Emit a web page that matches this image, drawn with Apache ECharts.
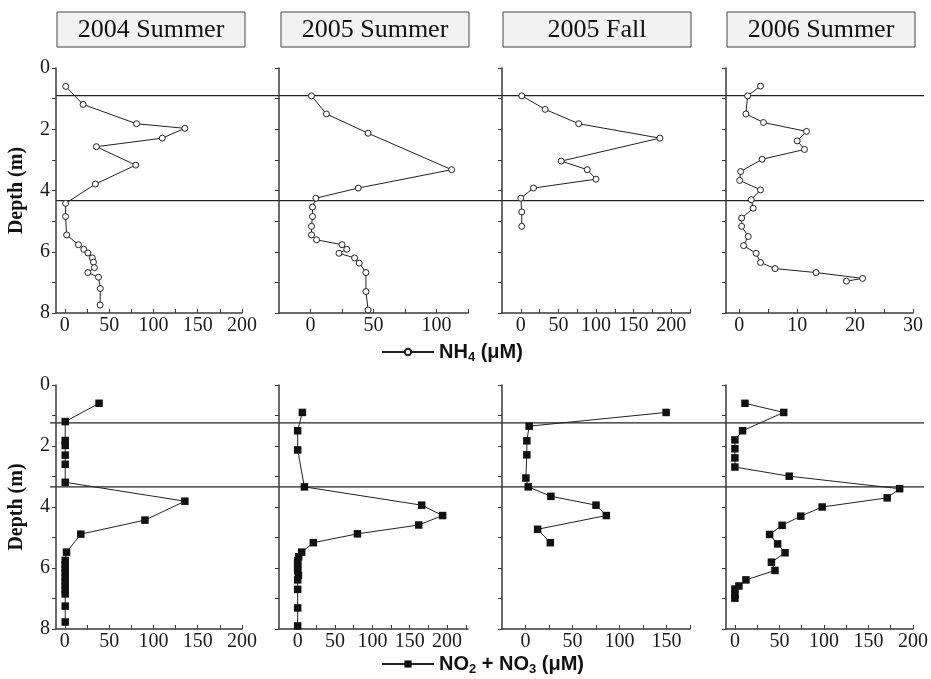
<!DOCTYPE html>
<html>
<head>
<meta charset="utf-8">
<script src="https://cdn.jsdelivr.net/npm/echarts@6/dist/echarts.min.js"></script>
<style>
  html, body { margin: 0; padding: 0; background: #fff; }
  #chart { width: 931px; height: 679px; }
</style>
</head>
<body>
<div id="chart"></div>
<script>
// panel titles
const panelNames = ["2004 Summer", "2005 Summer", "2005 Fall", "2006 Summer"];

// NH4 (uM) profiles: values and depths (m)
const nh4Val2004S = [1, 20.6, 81, 135.5, 110, 35.6, 80, 34.5, 0.8, 0.8, 2, 15.4, 21.4, 26, 31, 32.3, 33.4, 26, 38, 40, 39.8];
const nh4Dep2004S = [0.60, 1.19, 1.82, 1.97, 2.29, 2.57, 3.17, 3.79, 4.42, 4.85, 5.45, 5.77, 5.92, 6.04, 6.20, 6.34, 6.52, 6.68, 6.83, 7.20, 7.74];
const nh4Val2005S = [0.8, 12.6, 45.7, 112, 37.9, 4.3, 1.6, 1.6, 0.8, 0.8, 4.8, 25, 28.8, 22.6, 35, 38.7, 44, 44, 45.7];
const nh4Dep2005S = [0.91, 1.50, 2.13, 3.32, 3.92, 4.25, 4.54, 4.85, 5.17, 5.45, 5.61, 5.77, 5.92, 6.05, 6.20, 6.37, 6.68, 7.30, 7.90];
const nh4Val2005F = [1.3, 32.4, 77, 185, 53.8, 88.4, 100, 16.9, 0, 1.3, 1.3];
const nh4Dep2005F = [0.91, 1.35, 1.82, 2.29, 3.04, 3.32, 3.63, 3.92, 4.25, 4.70, 5.17];
const nh4Val2006S = [3.66, 1.43, 1.14, 4.17, 11.6, 10.0, 11.26, 3.94, 0.23, 0.06, 3.66, 2.06, 2.4, 0.4, 0.4, 1.54, 0.74, 2.9, 3.66, 6.17, 13.26, 21.3, 18.5];
const nh4Dep2006S = [0.59, 0.91, 1.50, 1.78, 2.07, 2.38, 2.66, 2.98, 3.38, 3.67, 3.98, 4.30, 4.58, 4.90, 5.17, 5.50, 5.80, 6.05, 6.35, 6.55, 6.68, 6.87, 6.96];

// NO2 + NO3 (uM) profiles
const noxVal2004S = [38.6, 0.4, 0.4, 0.4, 0.4, 0.4, 0.4, 135.5, 90.4, 18, 1.9, 0.4, 0.4, 0.4, 0.4, 0.4, 0.4, 0.4, 0.4, 0.4, 0.4, 0.4];
const noxDep2004S = [0.60, 1.20, 1.82, 1.98, 2.30, 2.60, 3.19, 3.81, 4.43, 4.89, 5.48, 5.75, 5.89, 6.02, 6.16, 6.30, 6.44, 6.57, 6.71, 6.85, 7.25, 7.77];
const noxVal2005S = [6.3, 0, 0, 9, 166, 194, 162, 80, 21, 5.4, 1.3, 0, 0, 0, 0, 1, 0, 0, 0, 0];
const noxDep2005S = [0.90, 1.50, 2.13, 3.34, 3.94, 4.28, 4.59, 4.88, 5.17, 5.48, 5.63, 5.76, 5.87, 5.98, 6.09, 6.24, 6.39, 6.70, 7.31, 7.90];
const noxVal2005F = [149.6, 3.9, 1.4, 1.4, 0.4, 2.9, 27, 75, 86, 12.9, 26.4];
const noxDep2005F = [0.90, 1.35, 1.83, 2.29, 3.05, 3.34, 3.65, 3.94, 4.28, 4.73, 5.17];
const noxVal2006S = [11.3, 54.8, 8.6, 0, 0, 0, 0, 61, 185, 171, 98, 74, 53, 39, 48, 56.3, 41, 45, 12.4, 4.5, 0, 0, 0];
const noxDep2006S = [0.60, 0.90, 1.50, 1.80, 2.09, 2.39, 2.69, 2.99, 3.40, 3.70, 4.00, 4.30, 4.60, 4.90, 5.21, 5.50, 5.81, 6.08, 6.39, 6.59, 6.69, 6.88, 6.99];

// layer boundaries (m)
const nh4Layers = [0.9, 4.33];
const noxLayers = [1.24, 3.34];

// x axis ranges and tick/label values
const nh4XMin = [-10, -25, -25, -2.3];
const nh4XMax = [200, 125, 225, 30];
const nh4Ticks = [
  [0, 25, 50, 75, 100, 125, 150, 175, 200],
  [0, 25, 50, 75, 100, 125],
  [0, 25, 50, 75, 100, 125, 150, 175, 200, 225],
  [0, 5, 10, 15, 20, 25, 30]
];
const nh4Labels = [[0, 50, 100, 150, 200], [0, 50, 100], [0, 50, 100, 150, 200], [0, 10, 20, 30]];
const noxXMin = [-10, -25, -25, -10];
const noxXMax = [200, 228, 175, 200];
const noxTicks = [
  [0, 25, 50, 75, 100, 125, 150, 175, 200],
  [0, 25, 50, 75, 100, 125, 150, 175, 200, 225],
  [0, 25, 50, 75, 100, 125, 150, 175],
  [0, 25, 50, 75, 100, 125, 150, 175, 200]
];
const noxLabels = [[0, 50, 100, 150, 200], [0, 50, 100, 150, 200], [0, 50, 100, 150], [0, 50, 100, 150, 200]];
const depthLabels = [0, 2, 4, 6, 8];

const nh4Vals = [nh4Val2004S, nh4Val2005S, nh4Val2005F, nh4Val2006S];
const nh4Deps = [nh4Dep2004S, nh4Dep2005S, nh4Dep2005F, nh4Dep2006S];
const noxVals = [noxVal2004S, noxVal2005S, noxVal2005F, noxVal2006S];
const noxDeps = [noxDep2004S, noxDep2005S, noxDep2005F, noxDep2006S];

const serif = '"Liberation Serif", "Times New Roman", serif';
const sans = '"Liberation Sans", Arial, sans-serif';
const axisColor = "#3a3a3a";

const lefts = [56, 279, 502, 726];
const widths = [186, 189, 188, 187];
const rowTop = [68, 385];
const rowHeight = [245, 244];

let chartDom = document.getElementById("chart");
let myChart = echarts.init(chartDom);

let grids = [], xAxes = [], yAxes = [], series = [];

for (let r = 0; r < 2; r++) {
  for (let c = 0; c < 4; c++) {
    let i = r * 4 + c;
    grids.push({ left: lefts[c], top: rowTop[r], width: widths[c], height: rowHeight[r] });
    xAxes.push({
      gridIndex: i,
      type: "value",
      min: r === 0 ? nh4XMin[c] : noxXMin[c],
      max: r === 0 ? nh4XMax[c] : noxXMax[c],
      axisLine: { show: true, onZero: false, lineStyle: { color: axisColor, width: 1.5 } },
      axisTick: { show: true, inside: true, length: 4, customValues: r === 0 ? nh4Ticks[c] : noxTicks[c], lineStyle: { color: axisColor } },
      axisLabel: { customValues: r === 0 ? nh4Labels[c] : noxLabels[c], margin: 3, color: "#1a1a1a", fontSize: 20, fontFamily: serif },
      splitLine: { show: false }
    });
    yAxes.push({
      gridIndex: i,
      type: "value",
      inverse: true,
      min: 0,
      max: 8,
      interval: 1,
      name: c === 0 ? "Depth (m)" : "",
      nameLocation: "middle",
      nameRotate: 90,
      nameGap: 29,
      nameTextStyle: { fontFamily: serif, fontWeight: "bold", fontSize: 20, color: "#111" },
      axisLine: { show: true, onZero: false, lineStyle: { color: axisColor, width: 1.5 } },
      axisTick: { show: true, inside: false, length: 4, lineStyle: { color: axisColor } },
      axisLabel: { show: c === 0, customValues: depthLabels, margin: 6, color: "#1a1a1a", fontSize: 20, fontFamily: serif },
      splitLine: { show: false }
    });
    let vals = r === 0 ? nh4Vals[c] : noxVals[c];
    let deps = r === 0 ? nh4Deps[c] : noxDeps[c];
    series.push({
      name: r === 0 ? "NH4" : "NOX",
      type: "line",
      xAxisIndex: i,
      yAxisIndex: i,
      data: vals.map((v, k) => [v, deps[k]]),
      symbol: r === 0 ? "circle" : "rect",
      symbolSize: r === 0 ? 6 : 7.5,
      showSymbol: true,
      lineStyle: { color: "#222", width: 1 },
      itemStyle: r === 0
        ? { color: "#fff", borderColor: "#222", borderWidth: 1 }
        : { color: "#111", borderColor: "#111", borderWidth: 0 },
      z: 3
    });
  }
}

const richSub = {
  main: { fontFamily: sans, fontWeight: "bold", fontSize: 20, color: "#111", lineHeight: 24 },
  sub: { fontFamily: sans, fontWeight: "bold", fontSize: 13, color: "#111", lineHeight: 14, verticalAlign: "bottom" }
};

let option = {
  animation: false,
  backgroundColor: "#fff",
  grid: grids,
  xAxis: xAxes,
  yAxis: yAxes,
  series: series,
  legend: [
    {
      data: ["NH4"], left: 381, top: 342, padding: 0, itemWidth: 52, itemHeight: 8, selectedMode: false,
      formatter: () => "{main|NH}{sub|4}{main| (μM)}",
      textStyle: { rich: richSub }
    },
    {
      data: ["NOX"], left: 381, top: 654, padding: 0, itemWidth: 52, itemHeight: 9, selectedMode: false,
      formatter: () => "{main|NO}{sub|2}{main| + NO}{sub|3}{main| (μM)}",
      textStyle: { rich: richSub }
    }
  ]
};

option && myChart.setOption(option);

// panel title boxes and layer boundary lines
let graphics = [];
for (let c = 0; c < 4; c++) {
  let bx = [57, 281, 503, 727][c];
  graphics.push({
    type: "rect", shape: { x: bx, y: 12, width: 188, height: 35 },
    style: { fill: "#f2f2f2", stroke: "#444", lineWidth: 1 }
  });
  graphics.push({
    type: "text", x: bx + 94, y: 30,
    style: { text: panelNames[c], fontFamily: serif, fontSize: 26, fill: "#111", align: "center", verticalAlign: "middle" }
  });
}
nh4Layers.forEach((d) => {
  let y = myChart.convertToPixel({ gridIndex: 0 }, [0, d])[1];
  graphics.push({ type: "line", shape: { x1: 56, y1: y, x2: 924, y2: y }, style: { stroke: "#222", lineWidth: 1.3 } });
});
noxLayers.forEach((d) => {
  let y = myChart.convertToPixel({ gridIndex: 4 }, [0, d])[1];
  graphics.push({ type: "line", shape: { x1: 50, y1: y, x2: 924, y2: y }, style: { stroke: "#222", lineWidth: 1.3 } });
});
myChart.setOption({ graphic: graphics });
</script>
</body>
</html>
